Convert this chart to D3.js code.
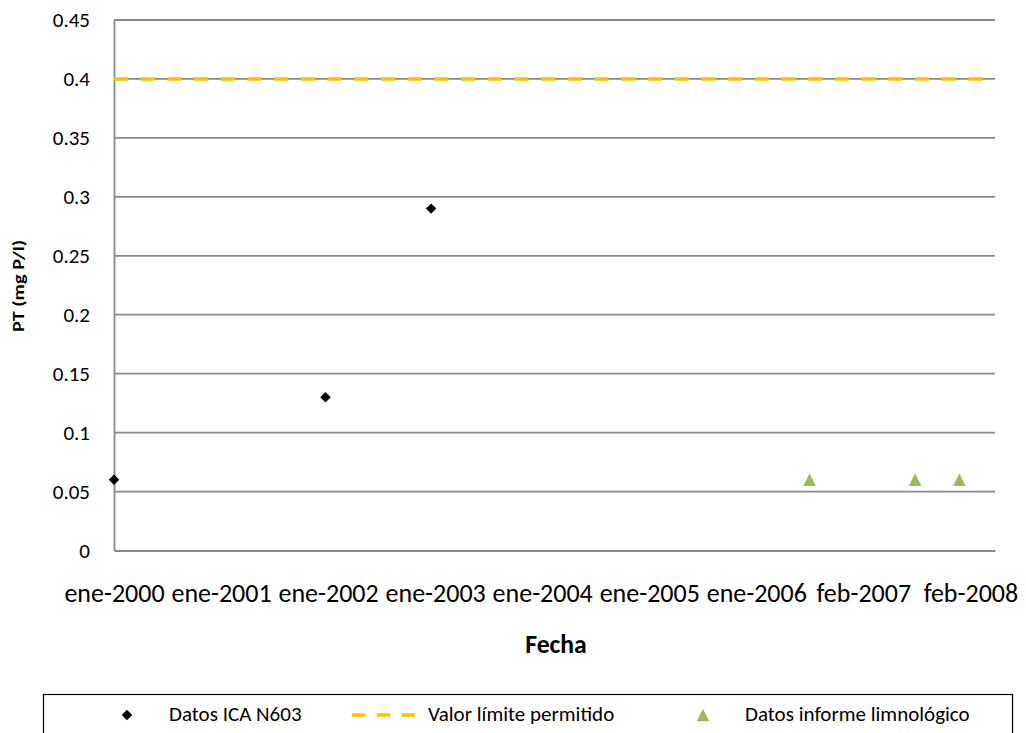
<!DOCTYPE html>
<html>
<head>
<meta charset="utf-8">
<script src="https://cdn.jsdelivr.net/npm/d3@7"></script>
<style>
  html, body { margin: 0; padding: 0; background: #fff; }
  svg { display: block; font-family: Carlito, Lato, "Open Sans", sans-serif; }
</style>
</head>
<body>
<svg id="chart" width="1026" height="733"></svg>
<script>
// Series: total phosphorus (mg P/l) by sampling date
const icaDates = ["2000-01-01", "2002-01-01", "2003-01-01"];
const icaValues = [0.06, 0.13, 0.29];

const limnoDates = ["2006-08-01", "2007-08-01", "2008-01-01"];
const limnoValues = [0.06, 0.06, 0.06];

const limitDates = ["2000-01-01", "2008-04-01"];
const limitValues = [0.4, 0.4];

// Axis definitions
const xDomain = ["2000-01-01", "2008-05-03"];
const xTickDates = ["2000-01-01", "2001-01-05", "2002-01-10", "2003-01-15", "2004-01-20",
                    "2005-01-24", "2006-01-29", "2007-02-03", "2008-02-08"];
const yTicks = [0, 0.05, 0.1, 0.15, 0.2, 0.25, 0.3, 0.35, 0.4, 0.45];

const seriesNames = ["Datos ICA N603", "Valor límite permitido", "Datos informe limnológico"];

const FONT = 'Carlito, Lato, "Open Sans", sans-serif';

const parse = d3.utcParse("%Y-%m-%d");
const es = d3.timeFormatLocale({
  dateTime: "%A, %e de %B de %Y, %X", date: "%d/%m/%Y", time: "%H:%M:%S",
  periods: ["AM", "PM"],
  days: ["domingo", "lunes", "martes", "miércoles", "jueves", "viernes", "sábado"],
  shortDays: ["dom", "lun", "mar", "mié", "jue", "vie", "sáb"],
  months: ["enero", "febrero", "marzo", "abril", "mayo", "junio", "julio", "agosto",
           "septiembre", "octubre", "noviembre", "diciembre"],
  shortMonths: ["ene", "feb", "mar", "abr", "may", "jun", "jul", "ago", "sep", "oct", "nov", "dic"]
});
const fmtDate = es.utcFormat("%b-%Y");

const svg = d3.select("#chart");
const plot = { left: 114, right: 995, top: 20, bottom: 550.5 };

const x = d3.scaleUtc().domain(xDomain.map(parse)).range([plot.left, plot.right]);
const y = d3.scaleLinear().domain([0, 0.45]).range([plot.bottom, plot.top]);

const gridColor = "#898989";

// Horizontal gridlines
svg.append("g")
  .selectAll("line")
  .data(yTicks.filter(d => d > 0))
  .join("line")
  .attr("x1", plot.left).attr("x2", plot.right)
  .attr("y1", d => y(d)).attr("y2", d => y(d))
  .attr("stroke", gridColor).attr("stroke-width", 1.8);

// Y axis
const yAxis = svg.append("g")
  .attr("transform", `translate(${plot.left},0)`)
  .call(d3.axisLeft(y).tickValues(yTicks).tickSize(0).tickPadding(24)
          .tickFormat(d => String(+d.toFixed(2))));
yAxis.select(".domain").attr("stroke", gridColor).attr("stroke-width", 1.8);
yAxis.selectAll("text").attr("font-size", 21).attr("fill", "#000")
  .attr("font-family", FONT);

// X axis
const xAxis = svg.append("g")
  .attr("transform", `translate(0,${plot.bottom})`)
  .call(d3.axisBottom(x).tickValues(xTickDates.map(parse)).tickSize(0).tickPadding(33)
          .tickFormat(fmtDate));
xAxis.select(".domain").attr("stroke", gridColor).attr("stroke-width", 1.8);
xAxis.selectAll("text").attr("font-size", 26).attr("fill", "#000")
  .attr("font-family", FONT);

// Axis titles (the vertical title is drawn slightly elongated along its run)
const yTitle = svg.append("text")
  .attr("text-anchor", "middle")
  .attr("font-size", 16.5).attr("font-weight", "bold")
  .text("PT (mg P/l)");
const yTitleLen = yTitle.node().getComputedTextLength();
yTitle.attr("transform", `translate(24,286) rotate(-90) scale(${92 / yTitleLen},1)`);

svg.append("text")
  .attr("x", 556).attr("y", 653)
  .attr("text-anchor", "middle")
  .attr("font-size", 25.7).attr("font-weight", "bold")
  .text("Fecha");

// Permitted limit (dashed)
const limitLine = d3.line().x(d => x(d[0])).y(d => y(d[1]));
svg.append("path")
  .datum(limitDates.map((d, i) => [parse(d), limitValues[i]]))
  .attr("d", limitLine)
  .attr("fill", "none")
  .attr("stroke", "#FFC000").attr("stroke-width", 3.5)
  .attr("stroke-dasharray", "14,12.7");

// ICA N603 points (diamonds)
const diamond = d3.symbol().type(d3.symbolDiamond2).size(70);
svg.append("g")
  .selectAll("path")
  .data(icaDates.map((d, i) => [parse(d), icaValues[i]]))
  .join("path")
  .attr("transform", d => `translate(${x(d[0])},${y(d[1])})`)
  .attr("d", diamond)
  .attr("fill", "#000");

// Limnological report points (triangles centred on their bounding box)
const boxTriangle = {
  draw(ctx, size) {
    const h = Math.sqrt(size);
    ctx.moveTo(0, -h / 2);
    ctx.lineTo(h / 2, h / 2);
    ctx.lineTo(-h / 2, h / 2);
    ctx.closePath();
  }
};
const triangle = d3.symbol().type(boxTriangle).size(160);
svg.append("g")
  .selectAll("path")
  .data(limnoDates.map((d, i) => [parse(d), limnoValues[i]]))
  .join("path")
  .attr("transform", d => `translate(${x(d[0])},${y(d[1])})`)
  .attr("d", triangle)
  .attr("fill", "#9BBB59");

// Legend
const legend = svg.append("g");
legend.append("rect")
  .attr("x", 43.5).attr("y", 694.5).attr("width", 969).attr("height", 60)
  .attr("fill", "none").attr("stroke", "#000").attr("stroke-width", 1.2);

legend.append("path")
  .attr("transform", "translate(127,715)")
  .attr("d", diamond).attr("fill", "#000");
legend.append("line")
  .attr("x1", 351.7).attr("x2", 415).attr("y1", 715).attr("y2", 715)
  .attr("stroke", "#FFC000").attr("stroke-width", 3.5)
  .attr("stroke-dasharray", "13.3,11.7");
legend.append("path")
  .attr("transform", "translate(703,715)")
  .attr("d", triangle).attr("fill", "#9BBB59");

legend.selectAll("text")
  .data(seriesNames)
  .join("text")
  .attr("x", (d, i) => [169, 428, 745][i])
  .attr("y", 721)
  .attr("font-size", 21)
  .attr("font-family", FONT)
  .attr("fill", "#000")
  .text(d => d);
</script>
</body>
</html>
